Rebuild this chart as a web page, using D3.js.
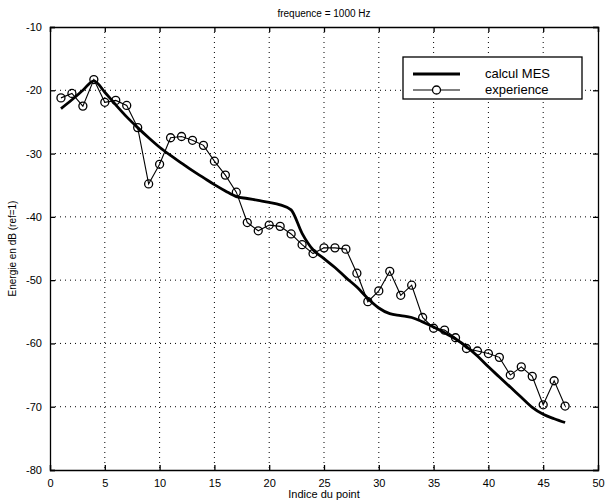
<!DOCTYPE html>
<html><head><meta charset="utf-8">
<script src="https://cdn.jsdelivr.net/npm/d3@7"></script>
<style>
html,body{margin:0;padding:0;background:#fff;}
text{font-family:"Liberation Sans",Arial,sans-serif;fill:#000;}
</style></head>
<body><svg id="c" width="613" height="504"></svg>
<script>
const xIdx = d3.range(1, 48);
const experience = [-21.2,-20.5,-22.5,-18.3,-21.9,-21.6,-22.4,-25.9,-34.8,-31.7,
  -27.5,-27.3,-27.9,-28.7,-31.2,-33.4,-36.1,-40.9,-42.2,-41.3,
  -41.5,-42.7,-44.4,-45.8,-44.9,-44.9,-45.1,-48.9,-53.4,-51.7,
  -48.6,-52.4,-50.8,-55.9,-57.6,-57.9,-59.1,-60.8,-61.2,-61.6,
  -62.2,-65.0,-63.7,-65.2,-69.7,-65.9,-69.9];
const calculMES = [-22.9,-21.5,-20.0,-18.5,-20.3,-22.3,-24.2,-25.9,-27.5,-29.0,
  -30.3,-31.5,-32.7,-33.8,-34.9,-35.9,-36.8,-37.1,-37.4,-37.7,
  -38.1,-38.9,-42.6,-45.2,-46.6,-48.0,-49.6,-51.1,-52.9,-54.4,
  -55.3,-55.6,-55.9,-56.6,-57.4,-58.3,-59.3,-60.5,-62.0,-63.7,
  -65.3,-66.9,-68.5,-70.1,-71.2,-71.9,-72.5];
const xTicks = [0,5,10,15,20,25,30,35,40,45,50];
const yTicks = [-10,-20,-30,-40,-50,-60,-70,-80];
const title = "frequence = 1000 Hz";
const xLabel = "Indice du point";
const yLabel = "Energie en dB (ref=1)";
const legendNames = ["calcul MES", "experience"];

const L = 50, R = 598, T = 27, B = 470;
const svg = d3.select("#c");
const x = d3.scaleLinear().domain([0, 50]).range([L, R]);
const y = d3.scaleLinear().domain([-80, -10]).range([B, T]);

// grid
const g = svg.append("g");
g.selectAll(".vg").data(xTicks.slice(1, -1)).enter().append("line")
  .attr("x1", d => x(d)).attr("x2", d => x(d)).attr("y1", T).attr("y2", B)
  .attr("stroke", "#000").attr("stroke-width", 1).attr("stroke-dasharray", "1,4");
g.selectAll(".hg").data(yTicks.slice(1, -1)).enter().append("line")
  .attr("y1", d => y(d)).attr("y2", d => y(d)).attr("x1", L).attr("x2", R)
  .attr("stroke", "#000").attr("stroke-width", 1).attr("stroke-dasharray", "1,4");

// axes (ticks inside)
const axB = d3.axisBottom(x).tickValues(xTicks).tickSize(-5).tickPadding(9).tickFormat(d3.format("d"));
const axT = d3.axisTop(x).tickValues(xTicks).tickSize(-5).tickFormat("");
const axL = d3.axisLeft(y).tickValues(yTicks).tickSize(-5).tickPadding(8).tickFormat(d => "-" + Math.abs(d));
const axR = d3.axisRight(y).tickValues(yTicks).tickSize(-5).tickFormat("");
function style(sel){ sel.selectAll("path,line").attr("stroke","#000").attr("stroke-width",1.3); sel.selectAll("text").style("font-size","11px").attr("fill","#000"); }
svg.append("g").attr("transform", `translate(0,${B})`).call(axB).call(style);
svg.append("g").attr("transform", `translate(0,${T})`).call(axT).call(style);
svg.append("g").attr("transform", `translate(${L},0)`).call(axL).call(style);
svg.append("g").attr("transform", `translate(${R},0)`).call(axR).call(style);
svg.selectAll(".domain").attr("stroke-width", 1.3);

// lines
const line = d3.line().x((d, i) => x(xIdx[i])).y(d => y(d));
svg.append("path").datum(calculMES).attr("d", line.curve(d3.curveMonotoneX))
  .attr("fill", "none").attr("stroke", "#000").attr("stroke-width", 2.8).attr("stroke-linejoin", "round");
const line2 = d3.line().x((d, i) => x(xIdx[i])).y(d => y(d));
svg.append("path").datum(experience).attr("d", line2)
  .attr("fill", "none").attr("stroke", "#000").attr("stroke-width", 1.1);
svg.selectAll(".pt").data(experience).enter().append("circle")
  .attr("cx", (d, i) => x(xIdx[i])).attr("cy", d => y(d)).attr("r", 4)
  .attr("fill", "none").attr("stroke", "#000").attr("stroke-width", 1.3);

// legend
const lg = svg.append("g");
lg.append("rect").attr("x", 403).attr("y", 57).attr("width", 179).attr("height", 42)
  .attr("fill", "#fff").attr("stroke", "#000").attr("stroke-width", 1.3);
lg.append("line").attr("x1", 413).attr("x2", 460).attr("y1", 74).attr("y2", 74).attr("stroke", "#000").attr("stroke-width", 2.8);
lg.append("line").attr("x1", 413).attr("x2", 460).attr("y1", 90).attr("y2", 90).attr("stroke", "#000").attr("stroke-width", 1.1);
lg.append("circle").attr("cx", 436.5).attr("cy", 90).attr("r", 4).attr("fill", "#fff").attr("stroke", "#000").attr("stroke-width", 1.3);
lg.selectAll(".lt").data(legendNames).enter().append("text")
  .attr("x", 485).attr("y", (d, i) => 78 + i * 16).style("font-size", "13px").text(d => d);

// titles
svg.append("text").attr("x", (L + R) / 2).attr("y", 17).attr("text-anchor", "middle").style("font-size", "10px").text(title);
svg.append("text").attr("x", (L + R) / 2).attr("y", 498).attr("text-anchor", "middle").style("font-size", "11px").text(xLabel);
svg.append("text").attr("transform", `translate(16,${(T + B) / 2}) rotate(-90)`).attr("text-anchor", "middle").style("font-size", "10px").text(yLabel);
</script></body></html>
